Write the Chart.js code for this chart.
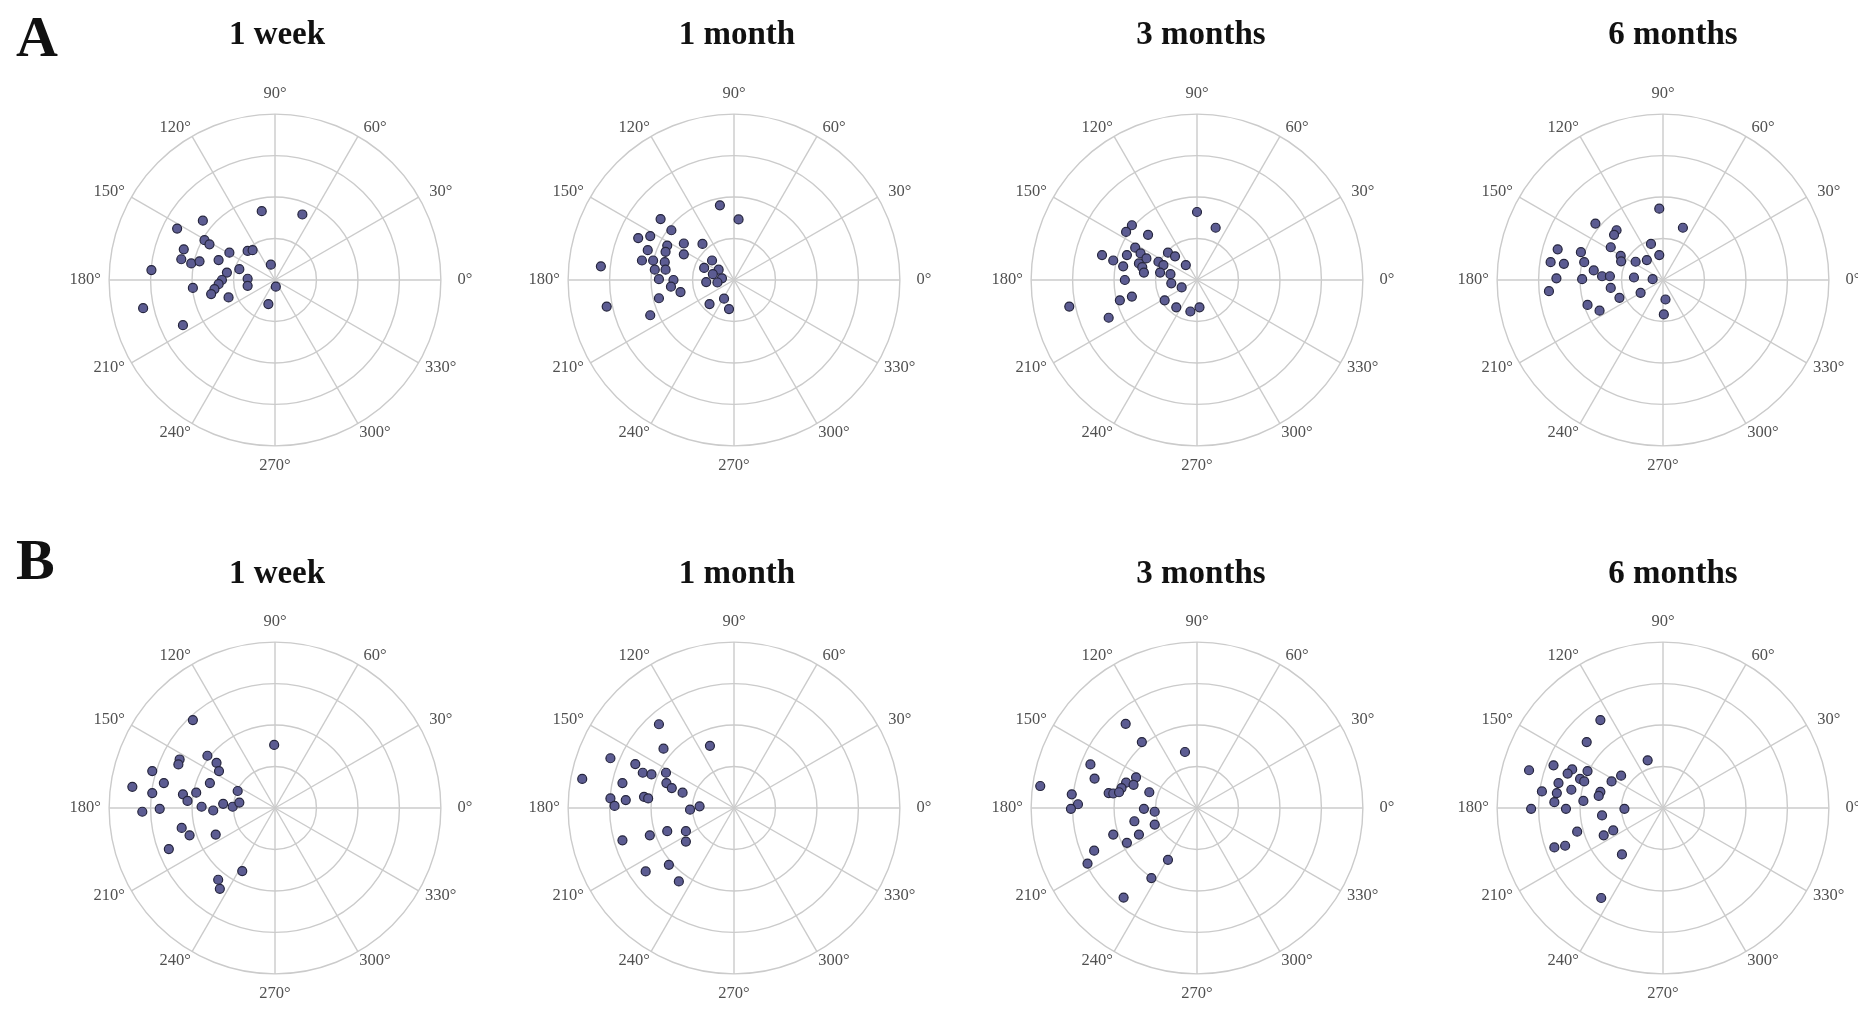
<!DOCTYPE html>
<html>
<head>
<meta charset="utf-8">
<script src="https://cdn.jsdelivr.net/npm/chart.js@4"></script>
<style>
  html, body { margin: 0; padding: 0; background: #fff; overflow: hidden; }
  body { width: 1858px; height: 1010px; position: relative; font-family: "Liberation Serif", serif; }
  canvas { position: absolute; }
  .title { position: absolute; font-weight: bold; font-size: 33px; line-height: 33px; color: #111; transform: translateX(-50%); white-space: nowrap; }
  .letter { position: absolute; font-weight: bold; font-size: 58px; line-height: 58px; color: #111; }
</style>
</head>
<body>
<div class="letter" style="left:16px; top:8px;">A</div>
<div class="letter" style="left:16px; top:531px;">B</div>

<script>
// panel titles and polar axis ticks
const periods = ['1 week', '1 month', '3 months', '6 months'];
const angleTicks = [0, 30, 60, 90, 120, 150, 180, 210, 240, 270, 300, 330];
const rings = [1, 2, 3, 4];

// points as [x, y] components, one ring = 1 unit
const groupA1w = [[-0.32,1.66],[0.66,1.58],[-1.74,1.43],[-2.36,1.24],[-1.70,0.96],[-1.58,0.86],[-2.20,0.74],
  [-0.66,0.70],[-0.54,0.72],[-1.10,0.66],[-2.26,0.50],[-2.02,0.40],[-1.82,0.45],[-1.36,0.48],[-0.10,0.37],
  [-2.98,0.24],[-0.86,0.26],[-1.16,0.18],[-0.66,0.03],[-1.28,0.00],[-1.98,-0.19],[-1.36,-0.10],[-1.46,-0.22],
  [-1.54,-0.34],[-0.66,-0.14],[0.02,-0.16],[-1.12,-0.42],[-0.16,-0.58],[-3.18,-0.68],[-2.22,-1.09]];
const groupA1m = [[-0.34,1.80],[0.11,1.46],[-1.77,1.47],[-1.51,1.20],[-2.02,1.06],[-2.31,1.01],[-1.61,0.83],
  [-1.21,0.88],[-0.76,0.87],[-2.08,0.72],[-1.65,0.68],[-1.21,0.62],[-2.22,0.47],[-1.95,0.47],[-1.67,0.43],
  [-0.53,0.47],[-0.72,0.29],[-0.37,0.25],[-3.21,0.33],[-1.91,0.25],[-1.65,0.25],[-0.51,0.14],[-0.29,0.04],
  [-1.81,0.02],[-1.46,0.00],[-0.67,-0.05],[-0.40,-0.06],[-1.52,-0.16],[-1.29,-0.29],[-1.81,-0.44],
  [-0.24,-0.45],[-0.59,-0.58],[-0.12,-0.70],[-3.07,-0.64],[-2.02,-0.85]];
const groupA3m = [[0.00,1.64],[0.45,1.26],[-1.57,1.32],[-1.71,1.16],[-1.18,1.09],[-1.49,0.78],[-2.29,0.60],
  [-2.02,0.47],[-1.69,0.60],[-1.36,0.64],[-1.22,0.52],[-0.70,0.66],[-0.53,0.57],[-1.78,0.33],[-1.40,0.40],
  [-1.32,0.31],[-0.93,0.44],[-0.81,0.36],[-0.27,0.36],[-1.28,0.18],[-0.89,0.18],[-1.74,0.00],[-0.64,0.14],
  [-0.37,-0.18],[-0.62,-0.08],[-1.86,-0.49],[-1.57,-0.40],[-0.78,-0.49],[-0.50,-0.66],[-0.16,-0.76],
  [0.06,-0.66],[-3.08,-0.64],[-2.13,-0.91]];
const groupA6m = [[-0.09,1.72],[0.48,1.26],[-1.63,1.36],[-1.12,1.20],[-1.18,1.09],[-0.29,0.87],[-1.26,0.79],
  [-0.09,0.60],[-2.54,0.74],[-1.98,0.67],[-1.02,0.58],[-1.01,0.45],[-0.39,0.48],[-0.66,0.44],[-2.71,0.43],
  [-2.39,0.39],[-1.90,0.43],[-1.67,0.23],[-1.47,0.09],[-1.28,0.09],[-2.57,0.04],[-1.95,0.02],[-0.70,0.06],
  [-0.25,0.02],[-1.26,-0.19],[-2.75,-0.27],[-1.05,-0.43],[-0.54,-0.31],[0.06,-0.47],[-1.82,-0.60],
  [-1.53,-0.74],[0.02,-0.83]];
const groupB1w = [[-1.98,2.12],[-0.02,1.52],[-1.63,1.26],[-2.30,1.17],[-2.33,1.05],[-1.41,1.09],[-1.35,0.89],
  [-2.96,0.89],[-2.68,0.60],[-1.57,0.60],[-3.44,0.51],[-2.96,0.36],[-2.22,0.33],[-1.90,0.37],[-2.11,0.17],
  [-0.90,0.41],[-1.77,0.03],[-1.49,-0.06],[-1.25,0.10],[-1.02,0.03],[-0.86,0.13],[-3.20,-0.09],[-2.78,-0.02],
  [-2.25,-0.48],[-2.06,-0.66],[-1.43,-0.64],[-2.56,-0.99],[-0.79,-1.52],[-1.37,-1.73],[-1.33,-1.95]];
const groupB1m = [[-1.81,2.02],[-0.58,1.50],[-1.70,1.43],[-2.98,1.20],[-2.38,1.06],[-2.20,0.85],[-1.99,0.81],
  [-1.64,0.85],[-1.63,0.60],[-1.50,0.48],[-1.24,0.37],[-3.66,0.70],[-2.69,0.60],[-2.98,0.23],[-2.88,0.05],
  [-2.61,0.19],[-2.17,0.27],[-2.07,0.23],[-1.06,-0.04],[-0.83,0.04],[-2.69,-0.78],[-2.03,-0.66],[-1.61,-0.56],
  [-1.16,-0.56],[-1.16,-0.81],[-1.57,-1.37],[-2.13,-1.53],[-1.33,-1.77]];
const groupB3m = [[-1.72,2.03],[-1.33,1.59],[-0.29,1.35],[-2.57,1.05],[-2.47,0.71],[-3.78,0.53],[-1.71,0.61],
  [-1.47,0.74],[-1.53,0.56],[-1.82,0.48],[-2.13,0.36],[-2.02,0.35],[-1.88,0.38],[-1.15,0.38],[-3.02,0.33],
  [-2.87,0.09],[-3.04,-0.02],[-1.28,-0.02],[-1.02,-0.09],[-1.51,-0.32],[-1.02,-0.40],[-2.02,-0.64],
  [-1.40,-0.64],[-1.69,-0.84],[-2.48,-1.03],[-2.64,-1.34],[-0.70,-1.25],[-1.10,-1.69],[-1.77,-2.16]];
const groupB6m = [[-1.51,2.12],[-1.84,1.59],[-0.37,1.15],[-3.23,0.91],[-2.64,1.03],[-2.19,0.93],[-2.30,0.83],
  [-2.00,0.70],[-1.82,0.89],[-1.90,0.64],[-1.24,0.64],[-1.01,0.78],[-2.52,0.60],[-2.92,0.40],[-2.56,0.36],
  [-2.21,0.44],[-1.51,0.39],[-1.55,0.29],[-1.92,0.17],[-2.62,0.14],[-2.34,-0.02],[-3.18,-0.02],[-0.93,-0.02],
  [-1.47,-0.18],[-2.07,-0.57],[-1.43,-0.66],[-1.20,-0.54],[-2.62,-0.95],[-2.36,-0.91],[-0.99,-1.12],[-1.49,-2.17]];

const rowA = [groupA1w, groupA1m, groupA3m, groupA6m];
const rowB = [groupB1w, groupB1m, groupB3m, groupB6m];

// layout
const colX = [275, 734, 1197, 1663];
const titleX = [277, 737, 1201, 1673];
const rowY = [280, 808];
const titleTop = [17, 556];
const size = 470;
const ringPx = 42.5;
const half = size / 2 / ringPx;

// draws circles, spokes and degree labels under the points
const polarGrid = {
    id: 'polarGrid',
    beforeDatasetsDraw(chart) {
        const { ctx, scales: { x, y } } = chart;
        const cx = x.getPixelForValue(0);
        const cy = y.getPixelForValue(0);
        const unit = x.getPixelForValue(1) - cx;
        const outer = rings[rings.length - 1] * unit;
        ctx.save();
        ctx.strokeStyle = '#cbcbcb';
        ctx.lineWidth = 1.4;
        rings.forEach(r => {
            ctx.beginPath();
            ctx.arc(cx, cy, r * unit, 0, Math.PI * 2);
            ctx.stroke();
        });
        angleTicks.forEach(a => {
            const t = a * Math.PI / 180;
            ctx.beginPath();
            ctx.moveTo(cx, cy);
            ctx.lineTo(cx + outer * Math.cos(t), cy - outer * Math.sin(t));
            ctx.stroke();
        });
        ctx.fillStyle = '#505050';
        ctx.font = '16.5px "Liberation Serif", serif';
        ctx.textAlign = 'center';
        ctx.textBaseline = 'middle';
        angleTicks.forEach(a => {
            const t = a * Math.PI / 180;
            const c = Math.cos(t), s = Math.sin(t);
            let dx = (outer + 14) * c + (Math.abs(c) > 0.01 ? Math.sign(c) * 10 : 0);
            let dy = (outer + 10) * s + (Math.abs(s) > 0.99 ? Math.sign(s) * 10 : 0);
            ctx.fillText(a + '°', cx + dx, cy - dy);
        });
        ctx.restore();
    }
};

function createPanel(points, cx, cy) {
    const canvas = document.createElement('canvas');
    canvas.width = size;
    canvas.height = size;
    canvas.style.left = (cx - size / 2) + 'px';
    canvas.style.top = (cy - size / 2) + 'px';
    document.body.appendChild(canvas);

    new Chart(canvas.getContext('2d'), {
        type: 'scatter',
        data: {
            datasets: [{
                data: points.map(p => ({ x: p[0], y: p[1] })),
                backgroundColor: '#5c5c92',
                borderColor: '#26263e',
                borderWidth: 1.2,
                pointRadius: 4.5
            }]
        },
        options: {
            responsive: false,
            animation: false,
            events: [],
            layout: { padding: 0 },
            plugins: { legend: { display: false }, tooltip: { enabled: false } },
            scales: {
                x: { type: 'linear', min: -half, max: half, display: false },
                y: { type: 'linear', min: -half, max: half, display: false }
            }
        },
        plugins: [polarGrid]
    });
}

[rowA, rowB].forEach((row, r) => {
    row.forEach((points, c) => {
        createPanel(points, colX[c], rowY[r]);
        const t = document.createElement('div');
        t.className = 'title';
        t.textContent = periods[c];
        t.style.left = titleX[c] + 'px';
        t.style.top = titleTop[r] + 'px';
        document.body.appendChild(t);
    });
});
</script>
</body>
</html>
